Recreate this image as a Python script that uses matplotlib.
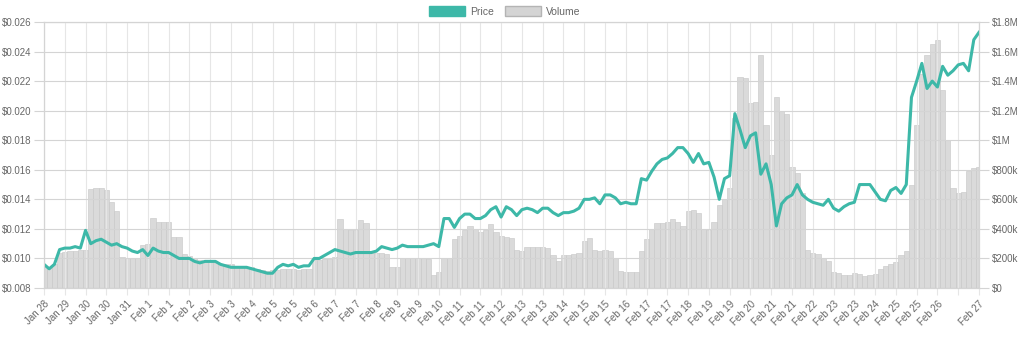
import matplotlib.pyplot as plt
import numpy as np
from matplotlib.patches import Patch
from matplotlib.ticker import FuncFormatter

plt.rcParams['font.family'] = ['Liberation Sans', 'DejaVu Sans']

# 4-hourly samples, Jan 28 20:00 -> Feb 27 20:00
price = [
    0.0096, 0.0093, 0.0096, 0.0106, 0.0107, 0.0107, 0.0108, 0.0107, 0.0119, 0.0110,
    0.0112, 0.0113, 0.0111, 0.0109, 0.0110, 0.0108, 0.0107, 0.0105, 0.0104, 0.0106,
    0.0102, 0.0107, 0.0105, 0.0104, 0.0104, 0.0102, 0.0100, 0.0100, 0.0100, 0.0098,
    0.0097, 0.0098, 0.0098, 0.0098, 0.0096, 0.0095, 0.0094, 0.0094, 0.0094, 0.0094,
    0.0093, 0.0092, 0.0091, 0.0090, 0.0090, 0.0094, 0.0096, 0.0095, 0.0096, 0.0094,
    0.0095, 0.0095, 0.0100, 0.0100, 0.0102, 0.0104, 0.0106, 0.0105, 0.0104, 0.0103,
    0.0104, 0.0104, 0.0104, 0.0104, 0.0105, 0.0108, 0.0107, 0.0106, 0.0107, 0.0109,
    0.0108, 0.0108, 0.0108, 0.0108, 0.0109, 0.0110, 0.0108, 0.0127, 0.0127, 0.0121,
    0.0127, 0.0130, 0.0130, 0.0127, 0.0127, 0.0129, 0.0133, 0.0135, 0.0128, 0.0135,
    0.0133, 0.0129, 0.0133, 0.0134, 0.0133, 0.0131, 0.0134, 0.0134, 0.0131, 0.0129,
    0.0131, 0.0131, 0.0132, 0.0134, 0.0140, 0.0140, 0.0141, 0.0137, 0.0143, 0.0143,
    0.0141, 0.0137, 0.0138, 0.0137, 0.0137, 0.0154, 0.0153, 0.0159, 0.0164, 0.0167,
    0.0168, 0.0171, 0.0175, 0.0175, 0.0171, 0.0165, 0.0171, 0.0164, 0.0165, 0.0155,
    0.0140, 0.0154, 0.0156, 0.0198, 0.0187, 0.0175, 0.0183, 0.0185, 0.0157, 0.0164,
    0.0150, 0.0122, 0.0137, 0.0141, 0.0143, 0.0150, 0.0143, 0.0140, 0.0138, 0.0137,
    0.0136, 0.0140, 0.0134, 0.0132, 0.0135, 0.0137, 0.0138, 0.0150, 0.0150, 0.0150,
    0.0145, 0.0140, 0.0139, 0.0146, 0.0148, 0.0144, 0.0150, 0.0209, 0.0220, 0.0232,
    0.0215, 0.0220, 0.0216, 0.0230, 0.0224, 0.0227, 0.0231, 0.0232, 0.0227, 0.0248,
    0.0253,
]

# volume in thousands of dollars
volume_k = [
    150, 135, 160, 235, 245, 250, 250, 255, 260, 670,
    680, 680, 660, 580, 520, 210, 205, 200, 200, 290,
    300, 475, 450, 445, 445, 345, 345, 230, 215, 205,
    190, 185, 175, 170, 165, 160, 160, 150, 150, 145,
    140, 130, 120, 115, 120, 125, 130, 130, 130, 125,
    130, 130, 190, 190, 195, 195, 210, 470, 400, 395,
    390, 460, 440, 240, 235, 235, 230, 140, 145, 205,
    205, 200, 205, 200, 195, 90, 110, 200, 205, 330,
    350, 390, 420, 400, 380, 390, 430, 380, 350, 345,
    340, 260, 250, 275, 275, 280, 275, 270, 220, 180,
    225, 225, 230, 240, 320, 340, 260, 250, 260, 250,
    200, 115, 110, 105, 110, 250, 330, 400, 440, 440,
    445, 470, 450, 420, 520, 530, 510, 400, 390, 450,
    560, 600, 680, 1150, 1430, 1420, 1250, 1260, 1580, 1100,
    900, 1290, 1200, 1180, 820, 780, 640, 260, 240, 230,
    200, 180, 110, 100, 90, 85, 100, 95, 80, 85,
    95, 130, 150, 165, 175, 225, 250, 700, 1100, 1450,
    1580, 1650, 1680, 1340, 1000, 680, 640, 650, 790, 810,
    820,
]

tick_labels = [
    "Jan 28", "Jan 29", "Jan 30", "Jan 30", "Jan 31", "Feb 1", "Feb 1", "Feb 2",
    "Feb 3", "Feb 3", "Feb 4", "Feb 5", "Feb 5", "Feb 6", "Feb 7", "Feb 7",
    "Feb 8", "Feb 9", "Feb 9", "Feb 10", "Feb 11", "Feb 11", "Feb 12", "Feb 13",
    "Feb 13", "Feb 14", "Feb 15", "Feb 15", "Feb 16", "Feb 17", "Feb 17", "Feb 18",
    "Feb 19", "Feb 19", "Feb 20", "Feb 21", "Feb 21", "Feb 22", "Feb 23", "Feb 23",
    "Feb 24", "Feb 25", "Feb 25", "Feb 26", "", "Feb 27",
]

teal = '#3db8a8'
txt = '#666666'
hours = np.arange(len(price)) * 4
volume = np.array(volume_k) * 1000

fig = plt.figure(figsize=(10.24, 3.38), dpi=100)
ax = fig.add_axes([44 / 1024, 50 / 338, 935 / 1024, 266 / 338])
ax2 = ax.twinx()

ax2.bar(hours, volume, width=4, color='#dadada', edgecolor='#c6c6c6', linewidth=0.4)
ax2.set_ylim(0, 1.8e6)
ax2.set_yticks(np.arange(0, 1.8e6 + 1, 2e5))


def vol_fmt(v, pos):
    if v == 0:
        return '$0'
    if v < 1e6:
        return f'${v / 1000:.0f}k'
    return f'${v / 1e6:g}M'


ax2.yaxis.set_major_formatter(FuncFormatter(vol_fmt))

ax.plot(hours, price, color=teal, lw=2.2, solid_joinstyle='round')
ax.set_ylim(0.008, 0.026)
ax.set_yticks(np.arange(0.008, 0.0261, 0.002))
ax.yaxis.set_major_formatter(FuncFormatter(lambda v, p: f'${v:.3f}'))
ax.set_xlim(0, 720)
ax.set_xticks(np.arange(0, 721, 16))
ax.set_xticklabels(tick_labels, rotation=45, ha='right', va='top', rotation_mode='anchor')

ax.set_zorder(ax2.get_zorder() + 1)
ax.patch.set_visible(False)

ax.grid(axis='y', color='#d4d4d4', lw=0.8)
ax.grid(axis='x', color='#e6e6e6', lw=0.8)

ax.tick_params(axis='y', length=7, color='#d4d4d4', labelsize=7, labelcolor=txt, pad=2)
ax2.tick_params(axis='y', length=7, color='#d4d4d4', labelsize=7, labelcolor=txt, pad=2)
ax.tick_params(axis='x', length=5, color='#e6e6e6', labelsize=7, labelcolor=txt, pad=3)

for a in (ax, ax2):
    for s in a.spines.values():
        s.set_color('#d4d4d4')
        s.set_linewidth(0.8)

handles = [
    Patch(facecolor=teal, edgecolor=teal, label='Price'),
    Patch(facecolor='#d4d4d4', edgecolor='#b4b4b4', label='Volume'),
]
fig.legend(handles=handles, loc='upper center', bbox_to_anchor=(0.493, 1.01), ncol=2,
           frameon=False, fontsize=7.5, labelcolor=txt, handlelength=3.5,
           handleheight=1.1, columnspacing=1.0, handletextpad=0.5)

fig.savefig('out.png', dpi=100)
